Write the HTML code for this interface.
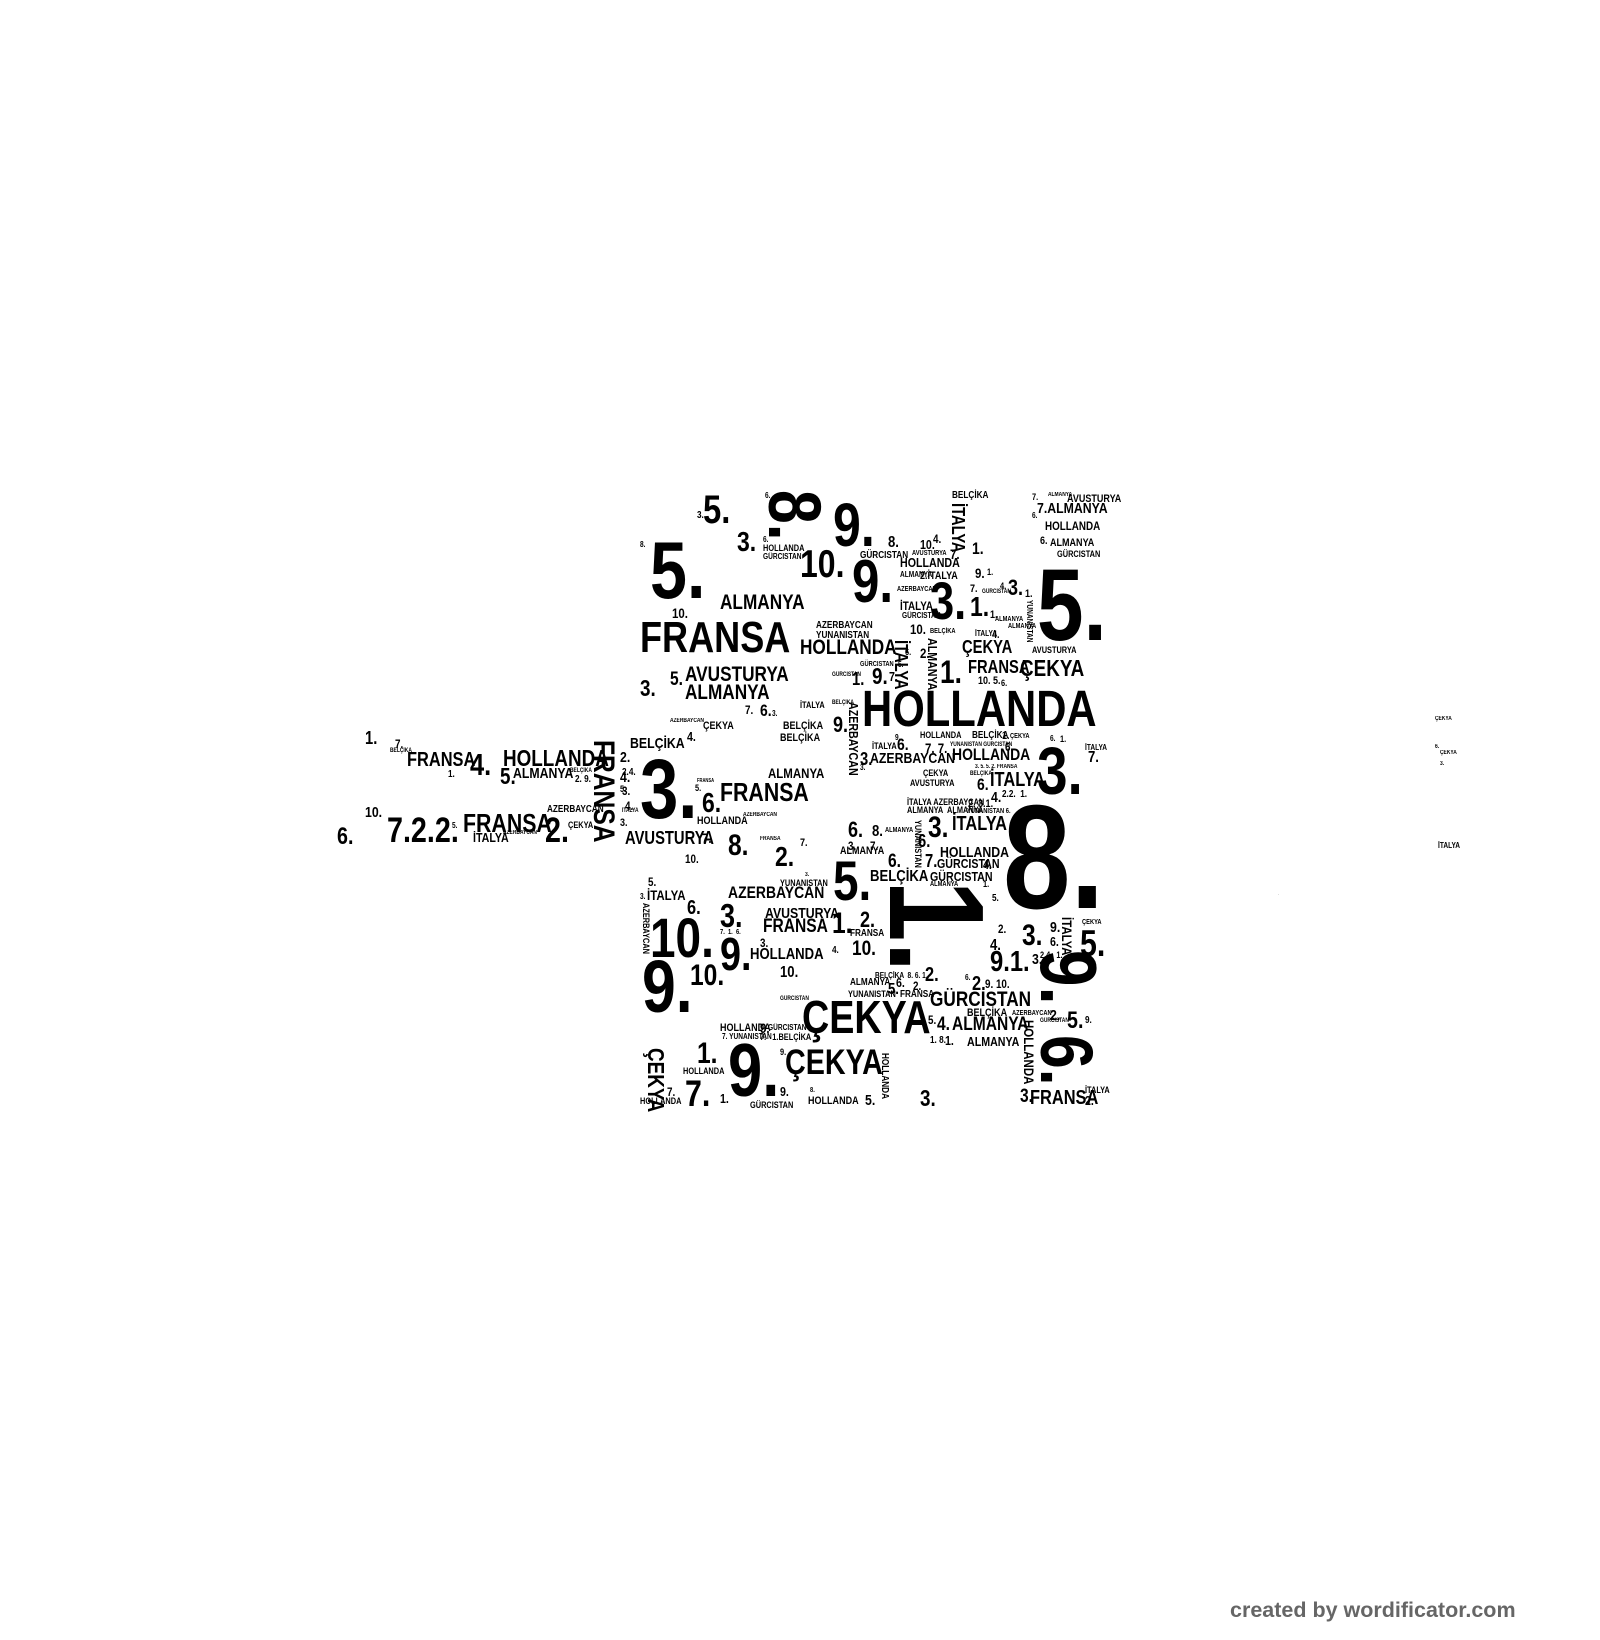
<!DOCTYPE html>
<html><head><meta charset="utf-8">
<style>
html,body{margin:0;padding:0;background:#fff;}
body{width:1600px;height:1640px;position:relative;overflow:hidden;}
.w{position:absolute;font-family:"Liberation Sans",sans-serif;font-weight:bold;line-height:1;white-space:nowrap;color:#000;transform:scaleX(.82);transform-origin:0 0;}
.r{transform:rotate(90deg) scaleX(.82);}
.c{position:absolute;left:1230px;top:1600px;font-family:"Liberation Sans",sans-serif;font-weight:bold;font-size:21.5px;line-height:1;color:#666;white-space:nowrap;}
</style></head><body>
<!-- top -->
<span class="w" style="left:703px;top:490px;font-size:40px">5.</span>
<span class="w" style="left:697px;top:511px;font-size:10px">3.</span>
<span class="w r" style="left:831px;top:490px;font-size:74px">8.</span>
<span class="w" style="left:765px;top:492px;font-size:8px">6.</span>
<span class="w" style="left:833px;top:495px;font-size:61px">9.</span>
<span class="w" style="left:737px;top:528px;font-size:28px">3.</span>
<span class="w" style="left:640px;top:541px;font-size:8px">8.</span>
<span class="w" style="left:650px;top:531px;font-size:81px">5.</span>
<span class="w" style="left:763px;top:536px;font-size:8px">6.</span>
<span class="w" style="left:763px;top:544px;font-size:9px">HOLLANDA</span>
<span class="w" style="left:763px;top:553px;font-size:8px">GÜRCISTAN</span>
<span class="w" style="left:800px;top:545px;font-size:39px">10.</span>
<span class="w" style="left:852px;top:552px;font-size:60px">9.</span>
<span class="w" style="left:888px;top:535px;font-size:16px">8.</span>
<span class="w" style="left:920px;top:538px;font-size:13px">10.</span>
<span class="w" style="left:933px;top:533px;font-size:12px">4.</span>
<span class="w" style="left:912px;top:550px;font-size:7px">AVUSTURYA</span>
<span class="w" style="left:950px;top:547px;font-size:14px">7.</span>
<span class="w" style="left:952px;top:491px;font-size:10px">BELÇİKA</span>
<span class="w r" style="left:967px;top:503px;font-size:18px">İTALYA</span>
<span class="w" style="left:972px;top:540px;font-size:17px">1.</span>
<span class="w" style="left:860px;top:551px;font-size:10px">GÜRCISTAN</span>
<span class="w" style="left:900px;top:556px;font-size:13px">HOLLANDA</span>
<span class="w" style="left:900px;top:571px;font-size:8px">ALMANYA</span>
<span class="w" style="left:920px;top:571px;font-size:11px">2.İTALYA</span>
<span class="w" style="left:897px;top:586px;font-size:7px">AZERBAYCAN</span>
<span class="w" style="left:900px;top:600px;font-size:12px">İTALYA</span>
<span class="w" style="left:902px;top:612px;font-size:8px">GÜRCISTAN</span>
<span class="w" style="left:910px;top:622px;font-size:14px">10.</span>
<span class="w" style="left:930px;top:628px;font-size:7px">BELÇİKA</span>
<span class="w" style="left:930px;top:575px;font-size:53px">3.</span>
<span class="w" style="left:970px;top:593px;font-size:28px">1.</span>
<span class="w" style="left:975px;top:566px;font-size:14px">9.</span>
<span class="w" style="left:987px;top:568px;font-size:9px">1.</span>
<span class="w" style="left:970px;top:584px;font-size:11px">7.</span>
<span class="w" style="left:982px;top:589px;font-size:6px">GÜRCISTAN</span>
<span class="w" style="left:1008px;top:577px;font-size:22px">3.</span>
<span class="w" style="left:1000px;top:582px;font-size:9px">4.</span>
<span class="w" style="left:1025px;top:589px;font-size:11px">1.</span>
<span class="w" style="left:990px;top:610px;font-size:11px">1.</span>
<span class="w" style="left:995px;top:616px;font-size:7px">ALMANYA</span>
<span class="w" style="left:1008px;top:623px;font-size:7px">ALMANYA</span>
<span class="w" style="left:975px;top:630px;font-size:8px">İTALYA</span>
<span class="w" style="left:992px;top:630px;font-size:11px">4.</span>
<span class="w r" style="left:1033px;top:600px;font-size:8px">YUNANISTAN</span>
<span class="w" style="left:1037px;top:554px;font-size:102px">5.</span>
<span class="w" style="left:1032px;top:493px;font-size:9px">7.</span>
<span class="w" style="left:1048px;top:492px;font-size:6px">ALMANYA</span>
<span class="w" style="left:1067px;top:494px;font-size:11px">AVUSTURYA</span>
<span class="w" style="left:1037px;top:501px;font-size:15px">7.ALMANYA</span>
<span class="w" style="left:1032px;top:512px;font-size:8px">6.</span>
<span class="w" style="left:1045px;top:520px;font-size:12px">HOLLANDA</span>
<span class="w" style="left:1040px;top:536px;font-size:11px">6.</span>
<span class="w" style="left:1050px;top:538px;font-size:11px">ALMANYA</span>
<span class="w" style="left:1057px;top:550px;font-size:9px">GÜRCISTAN</span>
<span class="w" style="left:720px;top:592px;font-size:21px">ALMANYA</span>
<span class="w" style="left:672px;top:606px;font-size:14px">10.</span>
<span class="w" style="left:640px;top:616px;font-size:44px">FRANSA</span>
<span class="w" style="left:816px;top:621px;font-size:10px">AZERBAYCAN</span>
<span class="w" style="left:816px;top:631px;font-size:10px">YUNANISTAN</span>
<span class="w" style="left:800px;top:637px;font-size:21px">HOLLANDA</span>
<span class="w r" style="left:910px;top:640px;font-size:18px">İTALYA</span>
<span class="w r" style="left:939px;top:638px;font-size:13px">ALMANYA</span>
<span class="w" style="left:920px;top:646px;font-size:14px">2.</span>
<span class="w" style="left:905px;top:648px;font-size:9px">6.</span>
<span class="w" style="left:962px;top:638px;font-size:18px">ÇEKYA</span>
<span class="w" style="left:968px;top:658px;font-size:18px">FRANSA</span>
<span class="w" style="left:1020px;top:657px;font-size:23px">ÇEKYA</span>
<span class="w" style="left:1032px;top:646px;font-size:9px">AVUSTURYA</span>
<span class="w" style="left:940px;top:656px;font-size:32px">1.</span>
<span class="w" style="left:872px;top:665px;font-size:23px">9.</span>
<span class="w" style="left:889px;top:670px;font-size:13px">7.</span>
<span class="w" style="left:852px;top:670px;font-size:18px">1.</span>
<span class="w" style="left:832px;top:672px;font-size:6px">GÜRCISTAN</span>
<span class="w" style="left:860px;top:661px;font-size:7px">GÜRCISTAN</span>
<span class="w" style="left:898px;top:661px;font-size:8px">5.</span>
<span class="w" style="left:978px;top:676px;font-size:11px">10. 5.</span>
<span class="w" style="left:1001px;top:679px;font-size:9px">6.</span>
<span class="w" style="left:685px;top:664px;font-size:21px">AVUSTURYA</span>
<span class="w" style="left:685px;top:682px;font-size:21px">ALMANYA</span>
<span class="w" style="left:670px;top:670px;font-size:19px">5.</span>
<span class="w" style="left:640px;top:677px;font-size:23px">3.</span>
<span class="w" style="left:862px;top:683px;font-size:51px">HOLLANDA</span>
<span class="w" style="left:833px;top:714px;font-size:22px">9.</span>
<span class="w r" style="left:860px;top:702px;font-size:13px">AZERBAYCAN</span>
<span class="w" style="left:832px;top:700px;font-size:6px">BELÇİKA</span>
<span class="w" style="left:800px;top:701px;font-size:9px">İTALYA</span>
<span class="w" style="left:745px;top:704px;font-size:12px">7.</span>
<span class="w" style="left:760px;top:702px;font-size:17px">6.</span>
<span class="w" style="left:772px;top:710px;font-size:8px">3.</span>
<span class="w" style="left:703px;top:721px;font-size:11px">ÇEKYA</span>
<span class="w" style="left:783px;top:721px;font-size:11px">BELÇİKA</span>
<span class="w" style="left:780px;top:733px;font-size:11px">BELÇİKA</span>
<span class="w" style="left:630px;top:736px;font-size:15px">BELÇİKA</span>
<span class="w" style="left:687px;top:730px;font-size:13px">4.</span>
<span class="w" style="left:670px;top:718px;font-size:6px">AZERBAYCAN</span>
<!-- middle right -->
<span class="w" style="left:920px;top:731px;font-size:9px">HOLLANDA</span>
<span class="w" style="left:972px;top:731px;font-size:10px">BELÇİKA</span>
<span class="w" style="left:1002px;top:731px;font-size:11px">1.</span>
<span class="w" style="left:1010px;top:733px;font-size:7px">ÇEKYA</span>
<span class="w" style="left:895px;top:734px;font-size:8px">9.</span>
<span class="w" style="left:897px;top:736px;font-size:17px">6.</span>
<span class="w" style="left:925px;top:741px;font-size:14px">7. 7.</span>
<span class="w" style="left:872px;top:742px;font-size:9px">İTALYA</span>
<span class="w" style="left:860px;top:750px;font-size:18px">3.</span>
<span class="w" style="left:870px;top:751px;font-size:15px">AZERBAYCAN</span>
<span class="w" style="left:952px;top:746px;font-size:17px">HOLLANDA</span>
<span class="w" style="left:950px;top:742px;font-size:6px">YUNANISTAN GÜRCISTAN</span>
<span class="w" style="left:1005px;top:741px;font-size:12px">6.</span>
<span class="w" style="left:1050px;top:735px;font-size:8px">6.</span>
<span class="w" style="left:1060px;top:735px;font-size:9px">1.</span>
<span class="w" style="left:1085px;top:744px;font-size:8px">İTALYA</span>
<span class="w" style="left:1088px;top:750px;font-size:16px">7.</span>
<span class="w" style="left:860px;top:764px;font-size:8px">3.</span>
<span class="w" style="left:923px;top:769px;font-size:9px">ÇEKYA</span>
<span class="w" style="left:910px;top:779px;font-size:9px">AVUSTURYA</span>
<span class="w" style="left:975px;top:764px;font-size:6px">3. 5. 5. 2. FRANSA</span>
<span class="w" style="left:970px;top:771px;font-size:6px">BELÇİKA</span>
<span class="w" style="left:977px;top:776px;font-size:17px">6.</span>
<span class="w" style="left:990px;top:770px;font-size:20px">İTALYA</span>
<span class="w" style="left:991px;top:790px;font-size:15px">4.</span>
<span class="w" style="left:968px;top:799px;font-size:11px">2. 3.1.</span>
<span class="w" style="left:1002px;top:790px;font-size:10px">2.2. &nbsp;1.</span>
<span class="w" style="left:907px;top:798px;font-size:9px">İTALYA AZERBAYCAN</span>
<span class="w" style="left:907px;top:806px;font-size:9px">ALMANYA &nbsp;ALMANYA</span>
<span class="w" style="left:967px;top:808px;font-size:7px">YUNANISTAN 6.</span>
<span class="w" style="left:1037px;top:738px;font-size:67px">3.</span>
<span class="w" style="left:1003px;top:784px;font-size:148px">8.</span>
<span class="w" style="left:848px;top:819px;font-size:22px">6.</span>
<span class="w" style="left:872px;top:824px;font-size:16px">8.</span>
<span class="w" style="left:885px;top:827px;font-size:7px">ALMANYA</span>
<span class="w r" style="left:922px;top:820px;font-size:9px">YUNANISTAN</span>
<span class="w" style="left:848px;top:840px;font-size:12px">3.</span>
<span class="w" style="left:870px;top:840px;font-size:12px">7.</span>
<span class="w" style="left:840px;top:846px;font-size:11px">ALMANYA</span>
<span class="w" style="left:888px;top:852px;font-size:19px">6.</span>
<span class="w" style="left:870px;top:869px;font-size:16px">BELÇİKA</span>
<span class="w" style="left:928px;top:813px;font-size:30px">3.</span>
<span class="w" style="left:952px;top:814px;font-size:20px">İTALYA</span>
<span class="w" style="left:918px;top:832px;font-size:18px">6.</span>
<span class="w" style="left:940px;top:845px;font-size:15px">HOLLANDA</span>
<span class="w" style="left:925px;top:852px;font-size:18px">7.</span>
<span class="w" style="left:937px;top:857px;font-size:13px">GÜRCISTAN</span>
<span class="w" style="left:930px;top:870px;font-size:13px">GÜRCISTAN</span>
<span class="w" style="left:930px;top:881px;font-size:7px">ALMANYA</span>
<span class="w" style="left:983px;top:858px;font-size:13px">4.</span>
<span class="w" style="left:983px;top:880px;font-size:9px">1.</span>
<span class="w" style="left:992px;top:894px;font-size:10px">5.</span>
<span class="w r" style="left:1004px;top:880px;font-size:135px">1.</span>
<!-- left arm -->
<span class="w" style="left:365px;top:729px;font-size:18px">1.</span>
<span class="w" style="left:395px;top:738px;font-size:12px">7.</span>
<span class="w" style="left:390px;top:748px;font-size:6px">BELÇİKA</span>
<span class="w" style="left:407px;top:750px;font-size:20px">FRANSA</span>
<span class="w" style="left:470px;top:749px;font-size:31px">4.</span>
<span class="w" style="left:503px;top:747px;font-size:23px">HOLLANDA</span>
<span class="w" style="left:500px;top:765px;font-size:23px">5.</span>
<span class="w" style="left:513px;top:766px;font-size:15px">ALMANYA</span>
<span class="w" style="left:448px;top:770px;font-size:10px">1.</span>
<span class="w" style="left:575px;top:775px;font-size:10px">2. 9.</span>
<span class="w" style="left:570px;top:768px;font-size:6px">BELÇİKA</span>
<span class="w r" style="left:618px;top:740px;font-size:30px">FRANSA</span>
<span class="w" style="left:620px;top:750px;font-size:15px">2.</span>
<span class="w" style="left:620px;top:770px;font-size:15px">4.</span>
<span class="w" style="left:620px;top:785px;font-size:9px">5.</span>
<span class="w" style="left:365px;top:805px;font-size:15px">10.</span>
<span class="w" style="left:337px;top:825px;font-size:24px">6.</span>
<span class="w" style="left:387px;top:813px;font-size:35px">7.2.2.</span>
<span class="w" style="left:463px;top:810px;font-size:26px">FRANSA</span>
<span class="w" style="left:545px;top:813px;font-size:35px">2.</span>
<span class="w" style="left:473px;top:831px;font-size:13px">İTALYA</span>
<span class="w" style="left:503px;top:830px;font-size:6px">AZERBAYCAN</span>
<span class="w" style="left:547px;top:805px;font-size:10px">AZERBAYCAN</span>
<span class="w" style="left:568px;top:821px;font-size:9px">ÇEKYA</span>
<span class="w" style="left:452px;top:822px;font-size:8px">5.</span>
<span class="w" style="left:620px;top:818px;font-size:11px">3.</span>
<!-- middle left -->
<span class="w" style="left:640px;top:747px;font-size:84px">3.</span>
<span class="w" style="left:622px;top:768px;font-size:10px">2.4.</span>
<span class="w" style="left:622px;top:785px;font-size:12px">3.</span>
<span class="w" style="left:625px;top:800px;font-size:12px">4.</span>
<span class="w" style="left:622px;top:808px;font-size:6px">İTALYA</span>
<span class="w" style="left:768px;top:766px;font-size:14px">ALMANYA</span>
<span class="w" style="left:697px;top:779px;font-size:5px">FRANSA</span>
<span class="w" style="left:720px;top:779px;font-size:26px">FRANSA</span>
<span class="w" style="left:702px;top:789px;font-size:28px">6.</span>
<span class="w" style="left:695px;top:784px;font-size:9px">5.</span>
<span class="w" style="left:697px;top:816px;font-size:11px">HOLLANDA</span>
<span class="w" style="left:743px;top:812px;font-size:6px">AZERBAYCAN</span>
<span class="w" style="left:625px;top:829px;font-size:18px">AVUSTURYA</span>
<span class="w" style="left:702px;top:831px;font-size:14px">7.</span>
<span class="w" style="left:728px;top:831px;font-size:30px">8.</span>
<span class="w" style="left:760px;top:836px;font-size:6px">FRANSA</span>
<span class="w" style="left:800px;top:838px;font-size:11px">7.</span>
<span class="w" style="left:775px;top:843px;font-size:28px">2.</span>
<span class="w" style="left:685px;top:853px;font-size:12px">10.</span>
<span class="w" style="left:833px;top:853px;font-size:56px">5.</span>
<span class="w" style="left:648px;top:876px;font-size:12px">5.</span>
<span class="w" style="left:647px;top:888px;font-size:14px">İTALYA</span>
<span class="w" style="left:640px;top:893px;font-size:8px">3.</span>
<span class="w r" style="left:650px;top:903px;font-size:9px">AZERBAYCAN</span>
<span class="w" style="left:687px;top:898px;font-size:20px">6.</span>
<span class="w" style="left:780px;top:879px;font-size:9px">YUNANISTAN</span>
<span class="w" style="left:805px;top:872px;font-size:6px">3.</span>
<span class="w" style="left:728px;top:884px;font-size:17px">AZERBAYCAN</span>
<span class="w" style="left:720px;top:899px;font-size:33px">3.</span>
<span class="w" style="left:765px;top:906px;font-size:15px">AVUSTURYA</span>
<span class="w" style="left:763px;top:917px;font-size:19px">FRANSA</span>
<span class="w" style="left:832px;top:909px;font-size:30px">1.</span>
<span class="w" style="left:860px;top:909px;font-size:22px">2.</span>
<span class="w" style="left:850px;top:929px;font-size:10px">FRANSA</span>
<span class="w" style="left:650px;top:910px;font-size:56px">10.</span>
<span class="w" style="left:720px;top:931px;font-size:46px">9.</span>
<span class="w" style="left:760px;top:937px;font-size:12px">3.</span>
<span class="w" style="left:750px;top:947px;font-size:16px">HOLLANDA</span>
<span class="w" style="left:780px;top:965px;font-size:16px">10.</span>
<span class="w" style="left:852px;top:938px;font-size:21px">10.</span>
<span class="w" style="left:832px;top:946px;font-size:10px">4.</span>
<span class="w" style="left:642px;top:950px;font-size:74px">9.</span>
<span class="w" style="left:690px;top:961px;font-size:30px">10.</span>
<span class="w" style="left:720px;top:929px;font-size:7px">7. &nbsp;1. &nbsp;6.</span>
<!-- lower middle -->
<span class="w" style="left:875px;top:972px;font-size:8px">BELÇİKA &nbsp;8. 6. 1.</span>
<span class="w" style="left:925px;top:965px;font-size:20px">2.</span>
<span class="w" style="left:850px;top:978px;font-size:10px">ALMANYA</span>
<span class="w" style="left:848px;top:990px;font-size:9px">YUNANISTAN</span>
<span class="w" style="left:888px;top:982px;font-size:16px">5.</span>
<span class="w" style="left:896px;top:976px;font-size:13px">6.</span>
<span class="w" style="left:913px;top:980px;font-size:12px">2.</span>
<span class="w" style="left:900px;top:990px;font-size:10px">FRANSA</span>
<span class="w" style="left:965px;top:974px;font-size:8px">6.</span>
<span class="w" style="left:972px;top:974px;font-size:20px">2.</span>
<span class="w" style="left:985px;top:978px;font-size:12px">9. 10.</span>
<span class="w" style="left:990px;top:948px;font-size:29px">9.1.</span>
<span class="w" style="left:990px;top:938px;font-size:16px">4.</span>
<span class="w" style="left:998px;top:923px;font-size:12px">2.</span>
<span class="w" style="left:1022px;top:921px;font-size:30px">3.</span>
<span class="w" style="left:1050px;top:920px;font-size:15px">9.</span>
<span class="w" style="left:1050px;top:935px;font-size:13px">6.</span>
<span class="w" style="left:1040px;top:951px;font-size:9px">2.4. &nbsp;1.</span>
<span class="w r" style="left:1074px;top:917px;font-size:14px">İTALYA</span>
<span class="w" style="left:1082px;top:919px;font-size:7px">ÇEKYA</span>
<span class="w" style="left:1080px;top:925px;font-size:37px">5.</span>
<span class="w" style="left:1032px;top:952px;font-size:15px">3.</span>
<span class="w r" style="left:1108px;top:950px;font-size:80px">9.</span>
<span class="w" style="left:802px;top:994px;font-size:46px">ÇEKYA</span>
<span class="w" style="left:930px;top:989px;font-size:21px">GÜRCISTAN</span>
<span class="w" style="left:780px;top:996px;font-size:6px">GÜRCISTAN</span>
<span class="w" style="left:967px;top:1008px;font-size:11px">BELÇİKA</span>
<span class="w" style="left:1012px;top:1010px;font-size:7px">AZERBAYCAN</span>
<span class="w" style="left:1050px;top:1008px;font-size:15px">2.</span>
<span class="w" style="left:1040px;top:1018px;font-size:6px">GÜRCISTAN</span>
<span class="w" style="left:1067px;top:1009px;font-size:24px">5.</span>
<span class="w" style="left:1085px;top:1016px;font-size:10px">9.</span>
<span class="w" style="left:928px;top:1014px;font-size:12px">5.</span>
<span class="w" style="left:937px;top:1015px;font-size:19px">4.</span>
<span class="w" style="left:952px;top:1015px;font-size:19px">ALMANYA</span>
<span class="w" style="left:930px;top:1036px;font-size:10px">1. 8.</span>
<span class="w" style="left:945px;top:1034px;font-size:13px">1.</span>
<span class="w" style="left:967px;top:1035px;font-size:13px">ALMANYA</span>
<span class="w r" style="left:1036px;top:1020px;font-size:14px">HOLLANDA</span>
<span class="w r" style="left:1103px;top:1035px;font-size:74px">6.</span>
<span class="w" style="left:1020px;top:1087px;font-size:19px">3.</span>
<span class="w" style="left:1030px;top:1088px;font-size:20px">FRANSA</span>
<span class="w" style="left:1085px;top:1086px;font-size:9px">İTALYA</span>
<span class="w" style="left:1085px;top:1094px;font-size:13px">2.</span>
<span class="w" style="left:720px;top:1023px;font-size:11px">HOLLANDA</span>
<span class="w" style="left:722px;top:1033px;font-size:8px">7. YUNANISTAN</span>
<span class="w" style="left:760px;top:1021px;font-size:14px">9.</span>
<span class="w" style="left:768px;top:1024px;font-size:8px">GÜRCISTAN</span>
<span class="w" style="left:760px;top:1033px;font-size:9px">7. &nbsp; 1.BELÇİKA</span>
<span class="w" style="left:728px;top:1033px;font-size:75px">9.</span>
<span class="w" style="left:697px;top:1039px;font-size:30px">1.</span>
<span class="w" style="left:683px;top:1067px;font-size:9px">HOLLANDA</span>
<span class="w" style="left:685px;top:1075px;font-size:37px">7.</span>
<span class="w r" style="left:667px;top:1048px;font-size:23px">ÇEKYA</span>
<span class="w" style="left:667px;top:1086px;font-size:12px">7.</span>
<span class="w" style="left:640px;top:1097px;font-size:9px">HOLLANDA</span>
<span class="w" style="left:720px;top:1092px;font-size:13px">1.</span>
<span class="w" style="left:780px;top:1085px;font-size:13px">9.</span>
<span class="w" style="left:750px;top:1101px;font-size:9px">GÜRCISTAN</span>
<span class="w" style="left:780px;top:1048px;font-size:9px">9.</span>
<span class="w" style="left:785px;top:1045px;font-size:35px">ÇEKYA</span>
<span class="w r" style="left:889px;top:1053px;font-size:10px">HOLLANDA</span>
<span class="w" style="left:810px;top:1087px;font-size:7px">8.</span>
<span class="w" style="left:808px;top:1096px;font-size:11px">HOLLANDA</span>
<span class="w" style="left:865px;top:1093px;font-size:15px">5.</span>
<span class="w" style="left:920px;top:1087px;font-size:23px">3.</span>
<!-- far right bits -->
<span class="w" style="left:1435px;top:716px;font-size:6px">ÇEKYA</span>
<span class="w" style="left:1435px;top:744px;font-size:6px">6.</span>
<span class="w" style="left:1440px;top:750px;font-size:6px">ÇEKYA</span>
<span class="w" style="left:1440px;top:761px;font-size:6px">3.</span>
<span class="w" style="left:1438px;top:842px;font-size:8px">İTALYA</span>
<span class="w" style="left:1278px;top:893px;font-size:3px">.</span>
<div class="c">created by wordificator.com</div>
</body></html>
